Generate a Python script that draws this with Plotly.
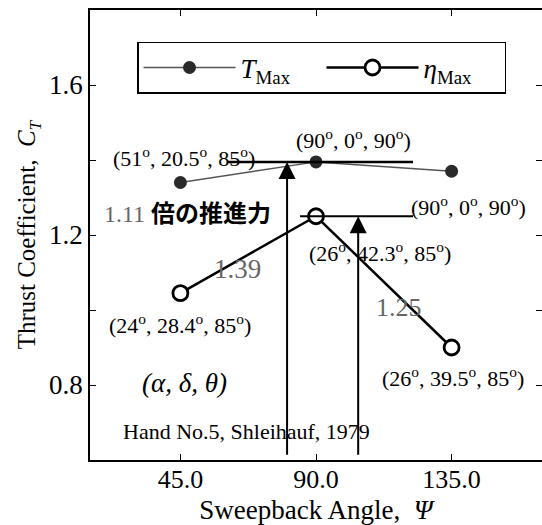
import plotly.graph_objects as go

# ---- data ----
sweep = [45.0, 90.0, 135.0]
t_max = [1.34, 1.395, 1.37]
eta_max = [1.045, 1.25, 0.90]
x_ticks = [45.0, 90.0, 135.0]
x_ticktext = ["45.0", "90.0", "135.0"]
y_ticks = [0.8, 1.0, 1.2, 1.4, 1.6]
y_ticktext = ["0.8", "", "1.2", "", "1.6"]
ref_t_level = 1.395
ref_eta_level = 1.25
arrow_x = [80.4, 104.0]
arrow_top = [1.395, 1.25]

SERIF = "Liberation Serif, Times New Roman, serif"
fig = go.Figure()

fig.add_trace(go.Scatter(
    x=sweep, y=t_max, mode="lines+markers",
    name="<i>T</i><sub>Max</sub>",
    line=dict(color="#555555", width=1.5),
    marker=dict(symbol="circle", size=13, color="#2a2a2a"),
))
fig.add_trace(go.Scatter(
    x=sweep, y=eta_max, mode="lines+markers",
    name="<i>η</i><sub>Max</sub>",
    line=dict(color="black", width=2.5),
    marker=dict(symbol="circle", size=15, color="white",
                line=dict(color="black", width=2.8)),
))
# invisible trace to drive the right-hand y axis ticks
fig.add_trace(go.Scatter(x=[sweep[0]], y=[t_max[0]], yaxis="y2", mode="markers",
                         marker=dict(opacity=0), showlegend=False, hoverinfo="skip"))

# reference horizontal lines
fig.add_shape(type="line", x0=60.5, x1=122.2, y0=ref_t_level, y1=ref_t_level,
              line=dict(color="black", width=2.5))
fig.add_shape(type="line", x0=84.7, x1=122.2, y0=ref_eta_level, y1=ref_eta_level,
              line=dict(color="black", width=1.8))

# arrows
for ax_, top in zip(arrow_x, arrow_top):
    fig.add_annotation(x=ax_, y=top, ax=ax_, ay=0.61, xref="x", yref="y",
                       axref="x", ayref="y", text="", showarrow=True,
                       arrowhead=2, arrowsize=1.7, arrowwidth=2, arrowcolor="black",
                       standoff=0)

deg = "<sup>o</sup>"
labels = [
    (46.2, 1.408, f"(51{deg}, 20.5{deg}, 85{deg})", "black", 22),
    (102.3, 1.455, f"(90{deg}, 0{deg}, 90{deg})", "black", 22),
    (140.5, 1.277, f"(90{deg}, 0{deg}, 90{deg})", "black", 22),
    (111.2, 1.155, f"(26{deg}, 42.3{deg}, 85{deg})", "black", 22),
    (44.9, 0.963, f"(24{deg}, 28.4{deg}, 85{deg})", "black", 22),
    (135.5, 0.821, f"(26{deg}, 39.5{deg}, 85{deg})", "black", 22),
    (64.1, 1.109, "1.39", "#666666", 27),
    (117.6, 1.008, "1.25", "#666666", 26),
    (46.5, 0.805, "<i>(α, δ, θ)</i>", "black", 27),
    (66.8, 0.675, "Hand No.5, Shleihauf, 1979", "black", 22),
]
for x, y, t, c, s in labels:
    fig.add_annotation(x=x, y=y, text=t, showarrow=False, xref="x", yref="y",
                       font=dict(family=SERIF, size=s, color=c))

fig.add_annotation(x=47.2, y=1.264, showarrow=False, xref="x", yref="y",
                   text="<span style='color:#666666'>1.11</span> "
                        "<span style='font-family:Noto Sans CJK JP'><b>倍の推進力</b></span>",
                   font=dict(family="Liberation Serif, Noto Sans CJK JP", size=24, color="black"))

fig.update_layout(
    width=542, height=525,
    margin=dict(l=90, r=0, t=10, b=65),
    paper_bgcolor="white", plot_bgcolor="white",
    font=dict(family=SERIF, color="black", size=26),
    showlegend=True,
    legend=dict(orientation="h", x=0.104, xanchor="left", y=0.929, yanchor="top",
                bordercolor="black", borderwidth=1.5, bgcolor="white",
                font=dict(family=SERIF, size=27), itemwidth=92,
                entrywidth=76, entrywidthmode="pixels"),
    xaxis=dict(range=[15, 165], tickvals=x_ticks, ticktext=x_ticktext,
               ticks="inside", ticklen=6, tickcolor="black", showline=True,
               linecolor="black", linewidth=1.5, mirror="ticks", showgrid=False,
               zeroline=False, tickfont=dict(size=26), ticklabelstandoff=-5,
               title=dict(text="Sweepback Angle,  <i>Ψ</i>", font=dict(size=27), standoff=7)),
    yaxis=dict(range=[0.6, 1.8], tickvals=y_ticks, ticktext=y_ticktext,
               ticks="inside", ticklen=6, tickcolor="black", showline=True,
               linecolor="black", linewidth=1.5, showgrid=False, zeroline=False,
               tickfont=dict(size=27),
               title=dict(text="Thrust Coefficient,  <i>C<sub>T</sub></i>",
                          font=dict(size=25), standoff=6)),
    yaxis2=dict(range=[0.6, 1.8], overlaying="y", side="right", tickvals=y_ticks,
                ticks="inside", ticklen=6, tickcolor="black", showline=False,
                showticklabels=False, showgrid=False, zeroline=False),
)

fig.write_html("out.html")
